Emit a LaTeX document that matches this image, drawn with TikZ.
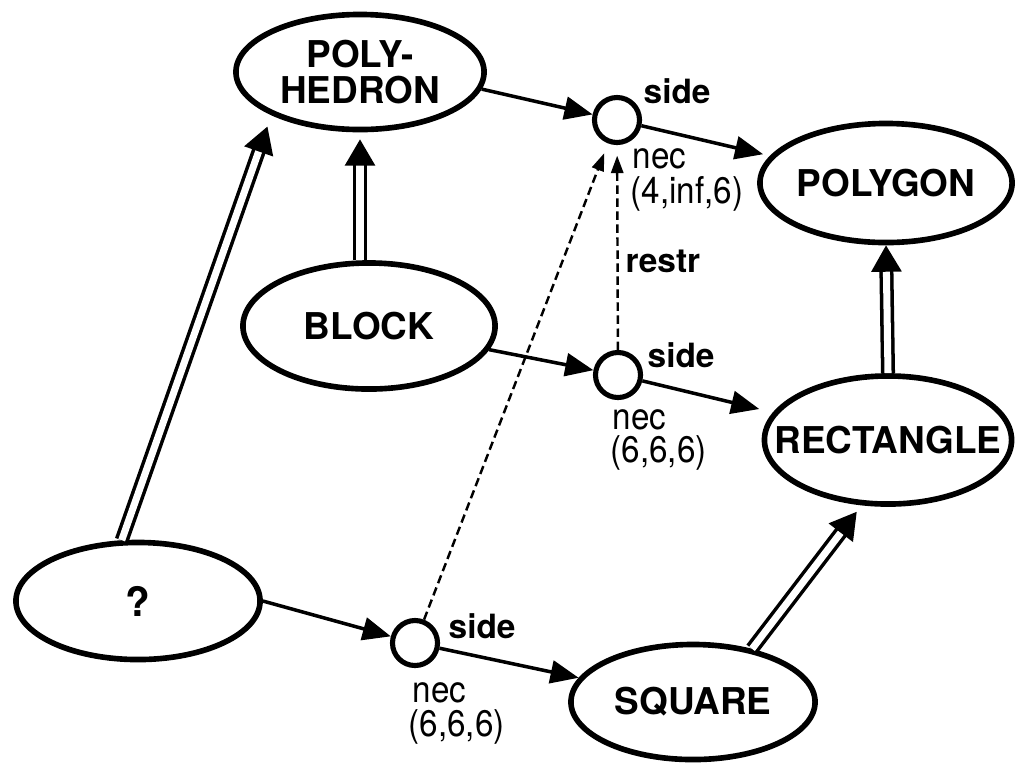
\documentclass[tikz,border=0pt]{standalone}
\usepackage{fontspec}
\setmainfont{TeX Gyre Heros}
\newfontfamily\narrowfont[FakeStretch=0.9]{TeX Gyre Heros}
\usetikzlibrary{shapes.geometric,arrows.meta}
% zero-width label so the ellipse size is set only by its minimum size
\newcommand{\clab}[1]{\makebox[0pt]{#1}}
\begin{document}
\begin{tikzpicture}[x=0.01cm,y=-0.01cm,
  concept/.style={ellipse, draw, line width=1.6pt, inner sep=0pt,
    font=\bfseries\fontsize{10.5pt}{10pt}\selectfont, align=center},
  slot/.style={circle, draw, line width=1.45pt, minimum size=0.45cm, inner sep=0pt},
  link/.style={line width=1pt, -{Triangle[length=8pt,width=6.5pt]}},
  isa/.style={double, double distance=2pt, line width=1pt,
    -{Triangle[length=7.5pt,width=8.5pt]}},
  restrict/.style={line width=0.7pt, dash pattern=on 2.4pt off 1.3pt,
    -{Triangle[length=5pt,width=3.5pt]}},
  rolename/.style={font=\bfseries\fontsize{9.5pt}{9.5pt}\selectfont, anchor=base west, inner sep=0pt},
  facet/.style={font=\narrowfont\fontsize{10.5pt}{10pt}\selectfont, anchor=base west, inner sep=0pt}]
\useasboundingbox (0,0) rectangle (1016,766);

% concepts
\node[concept, minimum width=2.48cm, minimum height=1.15cm] (poly) at (360,72) {\clab{POLY-}\\\clab{HEDRON}};
\node[concept, minimum width=2.52cm, minimum height=1.19cm] (polygon) at (886,183) {\clab{POLYGON}};
\node[concept, minimum width=2.52cm, minimum height=1.26cm] (block) at (369,326) {\clab{BLOCK}};
\node[concept, minimum width=2.47cm, minimum height=1.28cm] (rect) at (888,440) {\clab{RECTANGLE}};
\node[concept, minimum width=2.44cm, minimum height=1.17cm, font=\bfseries\fontsize{11.5pt}{11pt}\selectfont] (q) at (138,601) {\clab{?}};
\node[concept, minimum width=2.44cm, minimum height=1.15cm] (square) at (693,702) {\clab{SQUARE}};

% role slots
\node[slot] (c1) at (617,120) {};
\node[slot] (c2) at (618,375) {};
\node[slot] (c3) at (415,643) {};

% slot labels
\node[rolename] (s1) at (643,103) {side};
\node[facet] (n1) at (632,168) {nec};
\node[facet] (v1) at (630,203) {(4,inf,6)};
\node[rolename] (s2) at (647,367) {side};
\node[facet] (n2) at (612,429) {nec};
\node[facet] (v2) at (610,462) {(6,6,6)};
\node[rolename] (s3) at (448,638) {side};
\node[facet] (n3) at (412,702) {nec};
\node[facet] (v3) at (408,736) {(6,6,6)};
\node[rolename] (rs) at (625,272) {restr};

% role links
\draw[link] (poly.-8) -- (c1);
\draw[link, shorten >=2pt] (c1) -- (polygon);
\draw[link] (block) -- (c2);
\draw[link, shorten >=4pt] (c2) -- (rect);
\draw[link] (q.east) -- (c3);
\draw[link] (c3) -- (square);

% restrictions
\draw[restrict, shorten >=3pt] (c2) -- (c1);
\draw[restrict, shorten >=3pt] (c3) -- (c1);

% specialisation links
\draw[isa, shorten >=0.12cm] (q.105) -- (poly.-154);
\draw[isa, shorten >=0.07cm] (poly.south |- block.north) -- (poly.south);
\draw[isa] (rect.north) -- (polygon.south);
\draw[isa, shorten >=0.08cm] (square.42) -- (rect.-112);
\end{tikzpicture}
\end{document}
